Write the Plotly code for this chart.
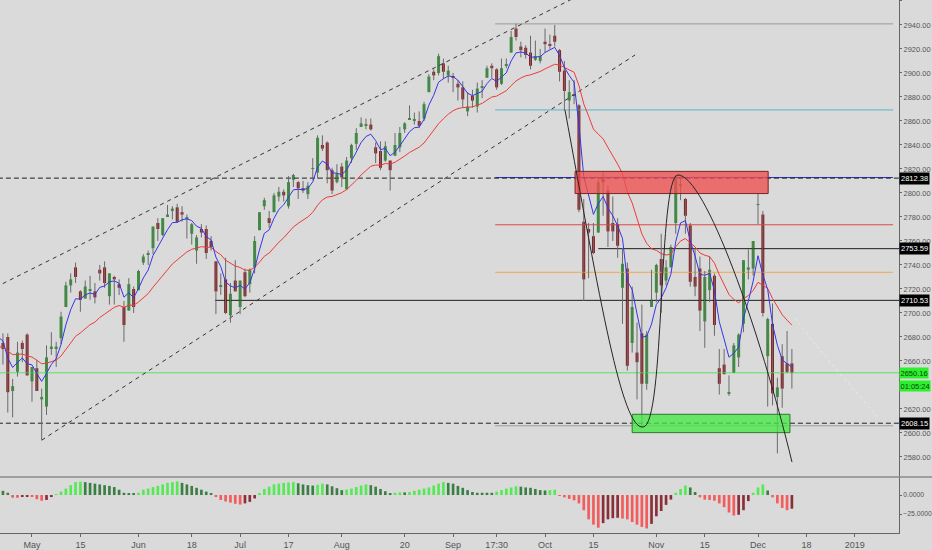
import plotly.graph_objects as go

# ---------------- data (daily candles, S&P 500 style) ----------------
dates = [
    "2018-04-20", "2018-04-23", "2018-04-24", "2018-04-25", "2018-04-26", "2018-04-27", "2018-04-30",
    "2018-05-01", "2018-05-02", "2018-05-03", "2018-05-04", "2018-05-07", "2018-05-08", "2018-05-09",
    "2018-05-10", "2018-05-11", "2018-05-14", "2018-05-15", "2018-05-16", "2018-05-17", "2018-05-18",
    "2018-05-21", "2018-05-22", "2018-05-23", "2018-05-24", "2018-05-25", "2018-05-29", "2018-05-30", "2018-05-31",
    "2018-06-01", "2018-06-04", "2018-06-05", "2018-06-06", "2018-06-07", "2018-06-08", "2018-06-11",
    "2018-06-12", "2018-06-13", "2018-06-14", "2018-06-15", "2018-06-18", "2018-06-19", "2018-06-20",
    "2018-06-21", "2018-06-22", "2018-06-25", "2018-06-26", "2018-06-27", "2018-06-28", "2018-06-29",
    "2018-07-02", "2018-07-03", "2018-07-05", "2018-07-06", "2018-07-09", "2018-07-10", "2018-07-11",
    "2018-07-12", "2018-07-13", "2018-07-16", "2018-07-17", "2018-07-18", "2018-07-19", "2018-07-20",
    "2018-07-23", "2018-07-24", "2018-07-25", "2018-07-26", "2018-07-27", "2018-07-30", "2018-07-31",
    "2018-08-01", "2018-08-02", "2018-08-03", "2018-08-06", "2018-08-07", "2018-08-08", "2018-08-09",
    "2018-08-10", "2018-08-13", "2018-08-14", "2018-08-15", "2018-08-16", "2018-08-17", "2018-08-20",
    "2018-08-21", "2018-08-22", "2018-08-23", "2018-08-24", "2018-08-27", "2018-08-28", "2018-08-29",
    "2018-08-30", "2018-08-31",
    "2018-09-04", "2018-09-05", "2018-09-06", "2018-09-07", "2018-09-10", "2018-09-11", "2018-09-12",
    "2018-09-13", "2018-09-14", "2018-09-17", "2018-09-18", "2018-09-19", "2018-09-20", "2018-09-21",
    "2018-09-24", "2018-09-25", "2018-09-26", "2018-09-27", "2018-09-28",
    "2018-10-01", "2018-10-02", "2018-10-03", "2018-10-04", "2018-10-05", "2018-10-08", "2018-10-09",
    "2018-10-10", "2018-10-11", "2018-10-12", "2018-10-15", "2018-10-16", "2018-10-17", "2018-10-18",
    "2018-10-19", "2018-10-22", "2018-10-23", "2018-10-24", "2018-10-25", "2018-10-26", "2018-10-29",
    "2018-10-30", "2018-10-31",
    "2018-11-01", "2018-11-02", "2018-11-05", "2018-11-06", "2018-11-07", "2018-11-08", "2018-11-09",
    "2018-11-12", "2018-11-13", "2018-11-14", "2018-11-15", "2018-11-16", "2018-11-19", "2018-11-20",
    "2018-11-21", "2018-11-23", "2018-11-26", "2018-11-27", "2018-11-28", "2018-11-29", "2018-11-30",
    "2018-12-03", "2018-12-04", "2018-12-06", "2018-12-07", "2018-12-10", "2018-12-11", "2018-12-12", "2018-12-13",
]

opens = [
    2681, 2675, 2680, 2635, 2651, 2675, 2682,
    2643, 2654, 2628, 2622, 2670, 2670, 2679, 2705, 2723, 2738, 2718, 2712, 2719, 2718, 2736, 2738, 2714, 2730, 2724, 2705, 2702, 2720,
    2719, 2742, 2749, 2754, 2775, 2765, 2780, 2785, 2788, 2784, 2778, 2766, 2752, 2770, 2770, 2760, 2743, 2722, 2728, 2698, 2727,
    2705, 2734, 2724, 2738, 2769, 2789, 2779, 2784, 2797, 2801, 2789, 2811, 2809, 2804, 2799, 2820, 2817, 2840, 2842, 2819, 2809,
    2822, 2803, 2829, 2841, 2855, 2856, 2857, 2838, 2835, 2827, 2827, 2831, 2838, 2853, 2861, 2860, 2860, 2862, 2884, 2901, 2900, 2908, 2898,
    2897, 2891, 2888, 2868, 2881, 2872, 2888, 2896, 2906, 2903, 2891, 2906, 2917, 2937, 2922, 2921, 2917, 2911, 2910,
    2926, 2924, 2931, 2919, 2902, 2877, 2882, 2873, 2776, 2770, 2764, 2767, 2812, 2802, 2775, 2774, 2721, 2737, 2675, 2667, 2683, 2641, 2705,
    2717, 2745, 2727, 2738, 2775, 2806, 2795, 2773, 2730, 2737, 2693, 2719, 2731, 2654, 2657, 2633, 2650, 2663, 2691, 2736, 2737,
    2790, 2782, 2664, 2691, 2630, 2664, 2658, 2658,
]
highs = [
    2683, 2683, 2683, 2645, 2676, 2677, 2683,
    2655, 2661, 2637, 2673, 2684, 2676, 2701, 2726, 2733, 2742, 2719, 2727, 2731, 2725, 2740, 2743, 2733, 2731, 2728, 2710, 2729, 2722,
    2736, 2749, 2752, 2772, 2779, 2779, 2790, 2789, 2791, 2789, 2782, 2775, 2765, 2774, 2773, 2764, 2743, 2733, 2746, 2725, 2744,
    2727, 2737, 2737, 2764, 2784, 2796, 2785, 2800, 2805, 2803, 2814, 2816, 2810, 2810, 2809, 2829, 2848, 2848, 2843, 2821, 2824,
    2825, 2830, 2841, 2854, 2863, 2862, 2862, 2842, 2843, 2843, 2827, 2850, 2855, 2859, 2873, 2867, 2868, 2876, 2899, 2903, 2916, 2912, 2906,
    2900, 2894, 2893, 2884, 2886, 2892, 2894, 2906, 2908, 2904, 2912, 2912, 2935, 2941, 2926, 2923, 2931, 2927, 2920,
    2937, 2932, 2940, 2920, 2910, 2894, 2894, 2874, 2795, 2775, 2775, 2813, 2817, 2806, 2797, 2779, 2754, 2742, 2722, 2692, 2707, 2685, 2736,
    2741, 2766, 2744, 2757, 2815, 2814, 2796, 2775, 2754, 2747, 2735, 2747, 2733, 2670, 2670, 2648, 2675, 2683, 2744, 2753, 2760,
    2800, 2785, 2696, 2708, 2646, 2674, 2685, 2670,
]
lows = [
    2660, 2657, 2617, 2613, 2647, 2659, 2648,
    2626, 2635, 2594, 2615, 2665, 2655, 2674, 2705, 2717, 2725, 2701, 2712, 2711, 2708, 2727, 2721, 2707, 2707, 2715, 2676, 2702, 2700,
    2719, 2740, 2740, 2749, 2760, 2764, 2780, 2778, 2775, 2776, 2762, 2757, 2741, 2763, 2745, 2752, 2699, 2715, 2699, 2692, 2718,
    2699, 2713, 2717, 2733, 2769, 2786, 2771, 2784, 2793, 2793, 2787, 2805, 2795, 2800, 2795, 2811, 2812, 2835, 2808, 2799, 2808,
    2805, 2803, 2825, 2836, 2855, 2853, 2852, 2825, 2819, 2826, 2802, 2831, 2834, 2850, 2861, 2857, 2854, 2860, 2884, 2894, 2898, 2895, 2892,
    2884, 2877, 2871, 2864, 2871, 2867, 2879, 2896, 2896, 2886, 2890, 2904, 2917, 2927, 2913, 2912, 2903, 2910, 2908,
    2917, 2920, 2922, 2893, 2869, 2862, 2874, 2784, 2710, 2729, 2749, 2767, 2781, 2755, 2760, 2746, 2691, 2652, 2667, 2628, 2604, 2636, 2705,
    2709, 2700, 2723, 2738, 2766, 2794, 2766, 2722, 2714, 2685, 2671, 2709, 2681, 2632, 2649, 2631, 2650, 2655, 2684, 2728, 2731,
    2774, 2697, 2622, 2623, 2583, 2621, 2650, 2637,
]
closes = [
    2670, 2670, 2634, 2639, 2667, 2670, 2648,
    2655, 2635, 2630, 2663, 2672, 2672, 2697, 2723, 2728, 2730, 2711, 2722, 2720, 2713, 2733, 2725, 2733, 2728, 2721, 2690, 2724, 2705,
    2735, 2747, 2749, 2772, 2770, 2779, 2782, 2787, 2776, 2782, 2780, 2774, 2763, 2767, 2750, 2755, 2718, 2723, 2700, 2716, 2718,
    2727, 2714, 2736, 2760, 2784, 2794, 2775, 2798, 2801, 2798, 2809, 2815, 2804, 2802, 2806, 2820, 2846, 2837, 2819, 2802, 2816,
    2813, 2827, 2840, 2850, 2858, 2857, 2853, 2833, 2821, 2839, 2819, 2840, 2850, 2858, 2862, 2861, 2856, 2874, 2897, 2898, 2914, 2901, 2902,
    2896, 2888, 2878, 2872, 2877, 2887, 2888, 2904, 2904, 2888, 2904, 2907, 2930, 2930, 2919, 2915, 2906, 2914, 2914,
    2924, 2923, 2926, 2901, 2885, 2884, 2881, 2786, 2728, 2767, 2750, 2809, 2809, 2768, 2768, 2756, 2741, 2656, 2705, 2659, 2641, 2682, 2711,
    2740, 2723, 2738, 2755, 2814, 2806, 2781, 2726, 2722, 2702, 2730, 2736, 2690, 2641, 2649, 2633, 2673, 2682, 2744, 2738, 2760,
    2790, 2700, 2695, 2633, 2638, 2637, 2651, 2650.16,
]

# momentum histogram (lower pane), one value per candle
oscillator = [
    7, 5.5, 3, -3.5, -3.6, -2.5, -1.7, -2, -5.5, -7.5,
    -6.5, -2, 1, 4.5, 8.5, 13, 17, 17.5, 17, 16,
    15, 14, 13, 12, 10.5, 7, 3, 2, 2, 3,
    7, 8.5, 10.5, 12, 14, 16, 17, 18, 16, 14,
    12, 9.5, 7, 4.5, 1.5, -2.5, -6.5, -8.5, -10, -11.5,
    -12.5, -11, -9, -4.5, 2.5, 8, 11, 14, 15, 16,
    16.5, 17, 15.5, 14, 13, 12.5, 13.5, 15, 14, 11.5,
    9, 6.5, 7, 8.5, 10.5, 12.5, 14, 13, 11, 8,
    5, 2, 3, 3.5, 3.5, 4, 5.5, 7, 8.5, 10,
    12.5, 15, 17, 16, 15, 12, 9.5, 6.5, 4, 3,
    3, 3, 3, 4.5, 6.5, 8.5, 10, 11.5, 11, 10,
    9.5, 8, 6.5, 6, 6.5, 7, -1, -3, -5, -7,
    -11, -20, -32, -39, -43, -37, -32, -30.5, -30, -31,
    -32, -35.5, -39, -42, -44, -38, -28, -21, -13, -6,
    3, 8, 12.5, 10, 4, -3, -6, -6.5, -7.5, -11,
    -16, -23, -27, -26, -20, -8, 3, 10, 14, 6,
    -3, -11, -17, -20, -18,
]

# x-axis tick labels
tick_dates = ["2018-05-01", "2018-05-15", "2018-06-01", "2018-06-18", "2018-07-02", "2018-07-17",
              "2018-08-01", "2018-08-20", "2018-09-04", "2018-09-17", "2018-10-01", "2018-10-15",
              "2018-11-01", "2018-11-15", "2018-12-03"]
tick_labels = ["May", "15", "Jun", "18", "Jul", "17", "Aug", "20", "Sep", "17:30", "Oct", "15",
               "Nov", "15", "Dec"]
future_tick_offsets = [3, 13]
future_tick_labels = ["18", "2019"]

# price scale labels (2640 sits under the countdown box in the reference)
price_ticks = [2580, 2600, 2620, 2660, 2680, 2700, 2720, 2740, 2760, 2780, 2800, 2820,
               2840, 2860, 2880, 2900, 2920, 2940, 2960]
osc_ticks = [0, -25]

# drawings (trading day index, price)
upper_channel_x = [-2, 121]
upper_channel_y = [2718.5, 2966.5]
lower_channel_x = [9, 131.6]
lower_channel_y = [2594, 2915]
dashed_levels = [2812.38, 2608.15]
ray_levels = [2753.59, 2710.53]
ray_starts = [124, 44.8]
fib_levels = [2940.9, 2869.2, 2812.9, 2773.5, 2733.9, 2606.0]
fib_colors = ["#9b9b9b", "#55b4c4", "#3030c8", "#e04848", "#f0a850", "#9b9b9b"]
fib_start, fib_end = 102.7, 184.9
red_zone = [119.2, 159.1, 2799.5, 2818.0]
green_zone = [131.0, 163.6, 2600.3, 2615.6]
curve_x = [117.12, 124.36, 128.90, 133.24, 137.79, 136.34, 140.47, 146.05, 157.41, 164.02]
curve_y = [2869.2, 2710.8, 2602.5, 2605.0, 2605.0, 2815.0, 2815.0, 2815.0, 2685.8, 2575.8]
projection_x = [164.6, 169.8, 176.0, 182.2]
projection_y = [2695.8, 2669.2, 2640.0, 2610.8]
label_prices = [2812.38, 2753.59, 2710.53, 2608.15]
last_price = 2650.16
countdown = "01:05:24"

# ---------------- derived ----------------
idx = list(range(len(dates)))
pos = {d: i for i, d in enumerate(dates)}
last = idx[-1]


def ema(values, period, seed):
    a = 2.0 / (period + 1)
    out, e = [], seed
    for v in values:
        e = e + a * (v - e)
        out.append(e)
    return out


ema_fast = ema(closes, 5, 2685)
ema_slow = ema(closes, 20, 2672)

UP, DOWN = "#2f9a35", "#8e1f22"
body_base = [min(o, c) for o, c in zip(opens, closes)]
body_h = [max(abs(c - o), 0.8) for o, c in zip(opens, closes)]
body_col = [UP if c >= o else DOWN for o, c in zip(opens, closes)]

wx, wy = [], []
for i, h, l in zip(idx, highs, lows):
    wx += [i, i, None]
    wy += [l, h, None]

osc_col = []
for k, v in enumerate(oscillator):
    prev = oscillator[k - 1] if k > 0 else v
    if v >= 0:
        osc_col.append("#55ea55" if v > prev else "#3c7f45")
    else:
        osc_col.append("#f25c5c" if v < prev else "#8a2f3a")

XR = [0.39, 186.13]
FONT = "Arial, Liberation Sans, sans-serif"

fig = go.Figure()

# fib levels and horizontal lines
for lv, col in zip(fib_levels, fib_colors):
    fig.add_trace(go.Scatter(x=[fib_start, fib_end], y=[lv, lv], mode="lines",
                             line=dict(color=col, width=1), hoverinfo="skip"))
for lv in dashed_levels:
    fig.add_trace(go.Scatter(x=[-5, 200], y=[lv, lv], mode="lines",
                             line=dict(color="#1e1e1e", width=1, dash="5px,3px"), hoverinfo="skip"))
for lv, st in zip(ray_levels, ray_starts):
    fig.add_trace(go.Scatter(x=[st, 200], y=[lv, lv], mode="lines",
                             line=dict(color="#1e1e1e", width=1), hoverinfo="skip"))
fig.add_trace(go.Scatter(x=[-5, 200], y=[last_price, last_price], mode="lines",
                         line=dict(color="#5ee05e", width=1), hoverinfo="skip"))

# channel lines
fig.add_trace(go.Scatter(x=upper_channel_x, y=upper_channel_y, mode="lines",
                         line=dict(color="#333", width=1, dash="4px,4px"), hoverinfo="skip"))
fig.add_trace(go.Scatter(x=lower_channel_x, y=lower_channel_y, mode="lines",
                         line=dict(color="#333", width=1, dash="4px,4px"), hoverinfo="skip"))

# candles
fig.add_trace(go.Scatter(x=wx, y=wy, mode="lines", line=dict(color="#6a6a6a", width=1),
                         hoverinfo="skip", connectgaps=False))
fig.add_trace(go.Bar(x=idx, y=body_h, base=body_base, width=0.62,
                     marker=dict(color=body_col, line=dict(width=0)), hoverinfo="skip"))

# moving averages
fig.add_trace(go.Scatter(x=idx, y=ema_slow, mode="lines", line=dict(color="#ee3a3a", width=1),
                         hoverinfo="skip"))
fig.add_trace(go.Scatter(x=idx, y=ema_fast, mode="lines", line=dict(color="#3535e8", width=1),
                         hoverinfo="skip"))

# faint projection
fig.add_trace(go.Scatter(x=projection_x, y=projection_y, mode="lines", line_shape="spline",
                         line=dict(color="rgba(238,238,238,0.8)", width=1, dash="dot"),
                         hoverinfo="skip"))

# oscillator
fig.add_trace(go.Bar(x=idx, y=oscillator, width=0.55, marker=dict(color=osc_col, line=dict(width=0)),
                     xaxis="x2", yaxis="y2", hoverinfo="skip"))

# shapes: zones, curve, separator
shapes = [
    dict(type="rect", xref="x", yref="y", x0=red_zone[0], x1=red_zone[1], y0=red_zone[2], y1=red_zone[3],
         fillcolor="rgba(240,80,80,0.78)", line=dict(color="#7a2424", width=1), layer="above"),
    dict(type="rect", xref="x", yref="y", x0=green_zone[0], x1=green_zone[1], y0=green_zone[2], y1=green_zone[3],
         fillcolor="rgba(70,232,70,0.78)", line=dict(color="#2b7a2b", width=1), layer="above"),
    dict(type="line", xref="paper", yref="paper", x0=0, x1=1.05, y0=0.105, y1=0.105,
         line=dict(color="#8a8a8a", width=1.5)),
]
cx, cy = curve_x, curve_y
path = (f"M {cx[0]},{cy[0]} C {cx[1]},{cy[1]} {cx[2]},{cy[2]} {cx[3]},{cy[3]} "
        f"C {cx[4]},{cy[4]} {cx[5]},{cy[5]} {cx[6]},{cy[6]} "
        f"C {cx[7]},{cy[7]} {cx[8]},{cy[8]} {cx[9]},{cy[9]}")
shapes.append(dict(type="path", xref="x", yref="y", path=path, line=dict(color="#262626", width=1),
                   layer="above"))

# price labels on the right axis
LBL = 7.5
annotations = []
for p in label_prices:
    annotations.append(dict(xref="paper", x=1.0, xanchor="left", yref="y", y=p, text=f"{p:.2f}",
                            showarrow=False, bgcolor="#000000", borderpad=1,
                            font=dict(color="#ffffff", size=LBL, family=FONT)))
annotations.append(dict(xref="paper", x=1.0, xanchor="left", yref="y", y=last_price,
                        text=f"{last_price:.2f}", showarrow=False, bgcolor="#2cf02c", borderpad=0.5,
                        font=dict(color="#0b3d0b", size=LBL, family=FONT)))
annotations.append(dict(xref="paper", x=1.0, xanchor="left", yref="y", y=last_price, yshift=-13,
                        text=countdown, showarrow=False, bgcolor="#2cf02c", borderpad=0.5,
                        font=dict(color="#0b3d0b", size=LBL, family=FONT)))

tickvals = [pos[d] for d in tick_dates] + [last + o for o in future_tick_offsets]
ticktext = tick_labels + future_tick_labels

axis_common = dict(showgrid=False, zeroline=False, linecolor="#666", linewidth=1,
                   tickcolor="#666", ticks="outside", automargin=False)

fig.update_layout(
    template="none",
    width=932, height=550, autosize=False,
    margin=dict(l=0, r=33, t=0, b=17, pad=0),
    paper_bgcolor="#dadada", plot_bgcolor="#dadada",
    showlegend=False, barmode="overlay",
    font=dict(family=FONT, color="#555", size=9),
    shapes=shapes, annotations=annotations,
    xaxis=dict(range=XR, anchor="y", showticklabels=False, showline=False, ticks="",
               showgrid=False, zeroline=False, automargin=False),
    xaxis2=dict(range=XR, anchor="y2", tickvals=tickvals, ticktext=ticktext, showline=True,
                ticklen=3, tickfont=dict(size=9, color="#555"), **axis_common),
    yaxis=dict(domain=[0.105, 1], anchor="x", side="right", range=[2563.3, 2960.8],
               tickvals=price_ticks, tickformat=".2f", showline=True, ticklen=2,
               tickfont=dict(size=7.5, color="#555"), **axis_common),
    yaxis2=dict(domain=[0, 0.105], anchor="x2", side="right", range=[-50, 23.7],
                tickvals=osc_ticks, tickformat=".4f", showline=True, ticklen=2,
                tickfont=dict(size=6.8, color="#555"), **axis_common),
)

fig.write_html("out.html", config={"displayModeBar": False},
               post_script="document.body.style.margin='0';document.body.style.overflow='hidden';")
